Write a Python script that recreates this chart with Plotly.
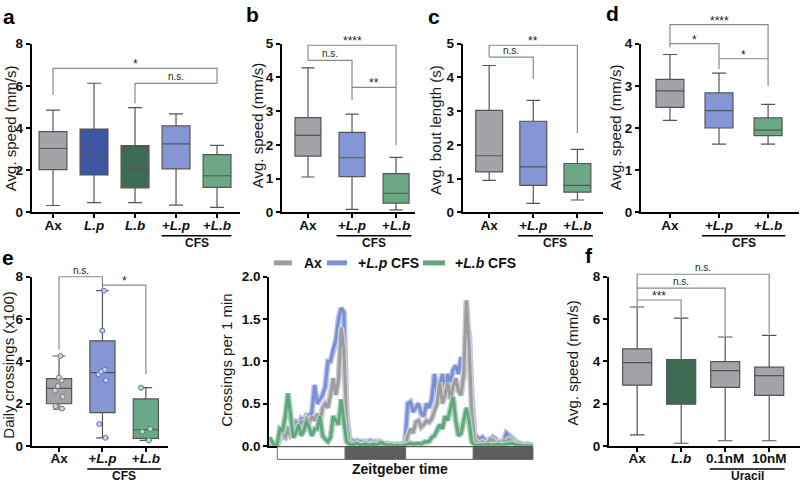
import plotly.graph_objects as go

W, H = 800, 489
FONT = "Liberation Sans, Arial, sans-serif"
INK = "#111111"

# ---------------- data ----------------
a_labels = ["Ax", "<i>L.p</i>", "<i>L.b</i>", "+<i>L.p</i>", "+<i>L.b</i>"]
a_low = [0.33, 0.47, 0.47, 0.35, 0.24]
a_q1 = [2.03, 1.78, 1.17, 2.07, 1.19]
a_med = [3.03, 2.78, 2.08, 3.25, 1.74]
a_q3 = [3.83, 3.95, 3.17, 4.10, 2.74]
a_high = [4.85, 6.12, 4.97, 4.67, 3.18]

cfs_labels = ["Ax", "+<i>L.p</i>", "+<i>L.b</i>"]

b_low = [1.05, 0.09, 0.08]
b_q1 = [1.67, 1.06, 0.28]
b_med = [2.28, 1.62, 0.57]
b_q3 = [2.81, 2.37, 1.15]
b_high = [4.28, 2.91, 1.63]

c_low = [0.95, 0.27, 0.37]
c_q1 = [1.20, 0.80, 0.60]
c_med = [1.68, 1.35, 0.80]
c_q3 = [3.02, 2.70, 1.45]
c_high = [4.35, 3.32, 1.87]

d_low = [2.18, 1.62, 1.62]
d_q1 = [2.49, 2.00, 1.82]
d_med = [2.88, 2.41, 1.95]
d_q3 = [3.15, 2.83, 2.24]
d_high = [3.74, 3.30, 2.56]

e_low = [1.73, 0.38, 0.26]
e_q1 = [1.99, 1.57, 0.35]
e_med = [2.72, 3.46, 0.76]
e_q3 = [3.18, 4.97, 2.22]
e_high = [4.25, 7.34, 2.75]
e_ax_pts = [4.25, 3.23, 3.10, 2.83, 2.61, 2.32, 1.88, 1.76]
e_lp_pts = [7.34, 5.45, 3.60, 3.52, 3.38, 3.10, 1.03, 0.38]
e_lb_pts = [2.75, 0.80, 0.67, 0.26]

f_labels = ["Ax", "<i>L.b</i>", "0.1nM", "10nM"]
f_low = [0.52, 0.12, 0.24, 0.24]
f_q1 = [2.87, 1.97, 2.77, 2.39]
f_med = [3.94, 3.12, 3.56, 3.32]
f_q3 = [4.59, 4.08, 3.98, 3.72]
f_high = [6.57, 6.04, 5.15, 5.23]

a_yticks = [0, 2, 4, 6, 8]
b_yticks = [0, 1, 2, 3, 4, 5]
c_yticks = [0, 1, 2, 3, 4, 5]
d_yticks = [0, 1, 2, 3, 4]
e_yticks = [0, 2, 4, 6, 8]
ts_yticks = [0.0, 0.5, 1.0, 1.5, 2.0]
f_yticks = [0, 2, 4, 6, 8]

# significance brackets: (from, to, height, left foot, right foot, label)
a_sig = [(0, 4, 6.82, 5.56, 6.11, "*"), (2, 4, 6.11, 5.17, 6.11, "n.s.")]
b_sig = [(0, 2, 4.95, 4.50, 2.00, "****"), (0, 1, 4.50, 4.50, 3.33, "n.s."),
         (1, 2, 3.70, 3.70, 3.70, "**")]
c_sig = [(0, 2, 4.95, 4.60, 2.35, "**"), (0, 1, 4.60, 4.60, 3.95, "n.s.")]
d_sig = [(0, 2, 4.45, 3.91, 2.99, "****"), (0, 1, 4.00, 4.00, 3.40, "*"),
         (1, 2, 3.64, 3.64, 3.64, "*")]
e_sig = [(0, 1, 8.00, 4.56, 7.34, "n.s."), (1, 2, 7.60, 7.60, 3.40, "*")]
f_sig = [(0, 3, 8.12, 6.60, 5.30, "n.s."), (0, 2, 7.46, 7.46, 5.20, "n.s."),
         (0, 1, 6.90, 6.90, 6.10, "***")]

# activity time course (Zeitgeber hours)
zt_hours = [
    -1.5, -1.0, -0.5, 0.0, 0.5, 1.0, 1.5, 2.0, 2.5, 3.0,
    3.5, 4.0, 4.5, 5.0, 5.5, 6.0, 6.5, 7.0, 7.5, 8.0,
    8.5, 9.0, 9.5, 10.0, 10.5, 11.0, 11.5, 12.0, 12.5, 13.0,
    13.5, 14.0, 14.5, 15.0, 15.5, 16.0, 16.5, 17.0, 17.5, 18.0,
    18.5, 19.0, 19.5, 20.0, 20.5, 21.0, 21.5, 22.0, 22.5, 23.0,
    23.5, 24.0, 24.5, 25.0, 25.5, 26.0, 26.5, 27.0, 27.5, 28.0,
    28.5, 29.0, 29.5, 30.0, 30.5, 31.0, 31.5, 32.0, 32.5, 33.0,
    33.5, 34.0, 34.5, 35.0, 35.5, 36.0, 36.5, 37.0, 37.5, 38.0,
    38.5, 39.0, 39.5, 40.0, 40.5, 41.0, 41.5, 42.0, 42.5, 43.0,
    43.5, 44.0, 44.5, 45.0, 45.5, 46.0, 46.5, 47.0, 47.5, 48.0,
]
ts_ax = [
    0.00, 0.00, 0.00, 0.02, 0.12, 0.18, 0.10, 0.20, 0.12, 0.15,
    0.25, 0.20, 0.30, 0.25, 0.32, 0.28, 0.35, 0.30, 0.38, 0.25,
    0.45, 0.50, 0.45, 0.60, 0.80, 0.60, 0.78, 1.40, 1.15, 0.30,
    0.05, 0.03, 0.02, 0.03, 0.02, 0.02, 0.04, 0.02, 0.03, 0.02,
    0.02, 0.05, 0.02, 0.01, 0.02, 0.01, 0.01, 0.01, 0.02, 0.01,
    0.00, 0.00, 0.12, 0.20, 0.15, 0.28, 0.30, 0.22, 0.25, 0.30,
    0.28, 0.32, 0.42, 0.50, 0.75, 0.50, 0.60, 0.75, 0.55, 0.70,
    0.80, 0.65, 0.60, 0.85, 1.72, 1.20, 0.40, 0.08, 0.04, 0.03,
    0.05, 0.03, 0.04, 0.08, 0.07, 0.03, 0.05, 0.04, 0.06, 0.05,
    0.08, 0.05, 0.03, 0.04, 0.02, 0.01, 0.01, 0.00, 0.00, 0.00,
]
ts_lp = [
    0.00, 0.00, 0.00, 0.01, 0.08, 0.12, 0.10, 0.20, 0.18, 0.22,
    0.28, 0.25, 0.32, 0.30, 0.36, 0.35, 0.40, 0.72, 0.50, 0.55,
    0.60, 0.70, 1.00, 1.00, 1.15, 1.25, 1.50, 1.63, 1.58, 0.40,
    0.10, 0.06, 0.05, 0.06, 0.05, 0.05, 0.04, 0.05, 0.06, 0.04,
    0.05, 0.03, 0.04, 0.02, 0.03, 0.02, 0.02, 0.01, 0.02, 0.01,
    0.01, 0.05, 0.50, 0.52, 0.40, 0.45, 0.50, 0.38, 0.35, 0.50,
    0.45, 0.55, 0.85, 0.60, 0.70, 0.85, 0.65, 0.85, 0.75, 0.90,
    0.95, 0.85, 1.05, 0.80, 1.30, 1.35, 0.60, 0.15, 0.10, 0.08,
    0.10, 0.06, 0.04, 0.05, 0.10, 0.08, 0.04, 0.05, 0.06, 0.15,
    0.12, 0.08, 0.05, 0.04, 0.03, 0.02, 0.01, 0.02, 0.01, 0.00,
]
ts_lb = [
    0.10, 0.05, 0.00, 0.02, 0.20, 0.18, 0.35, 0.62, 0.35, 0.10,
    0.15, 0.25, 0.12, 0.18, 0.30, 0.20, 0.12, 0.20, 0.20, 0.35,
    0.12, 0.08, 0.05, 0.10, 0.35, 0.30, 0.25, 0.55, 0.30, 0.05,
    0.02, 0.01, 0.02, 0.03, 0.01, 0.01, 0.02, 0.01, 0.01, 0.02,
    0.01, 0.02, 0.04, 0.02, 0.01, 0.01, 0.01, 0.00, 0.01, 0.00,
    0.00, 0.01, 0.02, 0.03, 0.02, 0.02, 0.03, 0.02, 0.04, 0.05,
    0.05, 0.10, 0.12, 0.18, 0.25, 0.20, 0.35, 0.30, 0.45, 0.58,
    0.30, 0.12, 0.15, 0.30, 0.45, 0.30, 0.05, 0.01, 0.01, 0.01,
    0.01, 0.01, 0.02, 0.01, 0.01, 0.01, 0.02, 0.01, 0.01, 0.02,
    0.02, 0.03, 0.02, 0.01, 0.01, 0.00, 0.00, 0.00, 0.00, 0.00,
]
ts_names = ["Ax", "+<i>L.p</i> CFS", "+<i>L.b</i> CFS"]
zt_edges = [0, 12.75, 24.1, 36.8, 48.0]
zt_dark = [False, True, False, True]

# ---------------- styles ----------------
GRAY = "#a3a3a8"
LP_DARK = "#3f56a3"
LB_DARK = "#3e6b53"
LP = "#8496d4"
LB = "#6aa886"
OUTLINE = "#555555"
BRACKET = "#8a8a8a"

# panel geometry in pixels of the 800x489 page
panels = {
    "a": dict(n=1, xpix=(31.7, 240.0), ypix=(37.7, 212.0), xrange=(-0.52, 4.56), yrange=(0, 8)),
    "b": dict(n=2, xpix=(282.0, 415.0), ypix=(37.7, 212.0), xrange=(-0.59, 2.43), yrange=(0, 5)),
    "c": dict(n=3, xpix=(462.7, 603.0), ypix=(37.7, 212.0), xrange=(-0.60, 2.58), yrange=(0, 5)),
    "d": dict(n=4, xpix=(641.0, 799.0), ypix=(37.7, 212.0), xrange=(-0.59, 2.63), yrange=(0, 4)),
    "e": dict(n=5, xpix=(31.7, 168.0), ypix=(278.3, 452.7), xrange=(-0.63, 2.51), yrange=(0, 8)),
    "ts": dict(n=6, xpix=(269.3, 533.3), ypix=(278.3, 452.7), xrange=(-1.5, 48.06), yrange=(0, 2)),
    "f": dict(n=7, xpix=(609.0, 800.0), ypix=(278.3, 452.7), xrange=(-0.64, 3.70), yrange=(0, 8)),
}


def ids(p):
    s = "" if p["n"] == 1 else str(p["n"])
    return "x" + s, "y" + s, "xaxis" + s, "yaxis" + s


def to_paper(p, x, y):
    (xl, xr), (yt, yb) = p["xpix"], p["ypix"]
    r0, r1 = p["xrange"]
    s0, s1 = p["yrange"]
    px = xl + (x - r0) / (r1 - r0) * (xr - xl)
    py = yb - (y - s0) / (s1 - s0) * (yb - yt)
    return px / W, 1 - py / H


fig = go.Figure()
shapes = []
annotations = []
axes = {}


def setup_axes(p, xticks, xtext, yticks, ytext):
    xid, yid, xa, ya = ids(p)
    (xl, xr), (yt, yb) = p["xpix"], p["ypix"]
    common = dict(showline=True, linewidth=2, linecolor="black", showgrid=False,
                  zeroline=False, ticks="outside", ticklen=4, tickwidth=1.5,
                  tickcolor="black", tickmode="array",
                  tickfont=dict(family=FONT, size=13.5, color=INK), fixedrange=True)
    axes[xa] = dict(common, domain=[xl / W, xr / W], range=list(p["xrange"]), anchor=yid,
                    tickvals=xticks, ticktext=xtext, ticklabelstandoff=-5)
    axes[ya] = dict(common, domain=[1 - yb / H, 1 - yt / H], range=list(p["yrange"]),
                    anchor=xid, tickvals=yticks, ticktext=ytext)


def box_panel(key, labels, low, q1, med, q3, high, colors, width, sig, yticks, group):
    p = panels[key]
    xid, yid, _, _ = ids(p)
    for i in range(len(labels)):
        fig.add_trace(go.Box(
            x=[i], q1=[q1[i]], median=[med[i]], q3=[q3[i]],
            lowerfence=[low[i]], upperfence=[high[i]],
            width=width, whiskerwidth=0.5, boxpoints=False,
            fillcolor=colors[i], line=dict(color=OUTLINE, width=1.2),
            xaxis=xid, yaxis=yid, showlegend=False, hoverinfo="skip"))
    setup_axes(p, list(range(len(labels))), [f"<b>{t}</b>" for t in labels],
               yticks, [f"<b>{t}</b>" for t in yticks])
    for x1, x2, h, f1, f2, txt in sig:
        pts = [to_paper(p, x1, f1), to_paper(p, x1, h), to_paper(p, x2, h), to_paper(p, x2, f2)]
        path = "M " + " L ".join(f"{u:.5f},{v:.5f}" for u, v in pts)
        shapes.append(dict(type="path", path=path, xref="paper", yref="paper",
                           line=dict(color=BRACKET, width=1.2)))
        ax_, ay_ = to_paper(p, (x1 + x2) / 2, h)
        star = "*" in txt
        annotations.append(dict(x=ax_, y=ay_, xref="paper", yref="paper", text=txt,
                                showarrow=False, xanchor="center", yanchor="bottom",
                                yshift=-5 if star else -1,
                                font=dict(family=FONT, size=12 if star else 10, color="#222")))
    if group:
        gtxt, g0, g1 = group
        base = p["ypix"][1]
        u0, _ = to_paper(p, g0 - 0.35, 0)
        u1, _ = to_paper(p, g1 + 0.35, 0)
        yl = 1 - (base + 24) / H
        shapes.append(dict(type="line", xref="paper", yref="paper", x0=u0, x1=u1, y0=yl, y1=yl,
                           line=dict(color="black", width=1.5)))
        annotations.append(dict(x=(u0 + u1) / 2, y=1 - (base + 31) / H, xref="paper", yref="paper",
                                text=f"<b>{gtxt}</b>", showarrow=False, xanchor="center",
                                yanchor="middle", font=dict(family=FONT, size=12, color=INK)))


box_panel("a", a_labels, a_low, a_q1, a_med, a_q3, a_high,
          [GRAY, LP_DARK, LB_DARK, LP, LB], 0.68, a_sig, a_yticks, ("CFS", 3, 4))
box_panel("b", cfs_labels, b_low, b_q1, b_med, b_q3, b_high,
          [GRAY, LP, LB], 0.59, b_sig, b_yticks, ("CFS", 1, 2))
box_panel("c", cfs_labels, c_low, c_q1, c_med, c_q3, c_high,
          [GRAY, LP, LB], 0.61, c_sig, c_yticks, ("CFS", 1, 2))
box_panel("d", cfs_labels, d_low, d_q1, d_med, d_q3, d_high,
          [GRAY, LP, LB], 0.57, d_sig, d_yticks, ("CFS", 1, 2))
box_panel("e", cfs_labels, e_low, e_q1, e_med, e_q3, e_high,
          [GRAY, LP, LB], 0.58, e_sig, e_yticks, ("CFS", 1, 2))
box_panel("f", f_labels, f_low, f_q1, f_med, f_q3, f_high,
          [GRAY, LB_DARK, GRAY, GRAY], 0.66, f_sig, f_yticks, ("Uracil", 2, 3))

# individual points in panel e
pe = panels["e"]
xid, yid, _, _ = ids(pe)
for i, (pts, fill, edge) in enumerate([(e_ax_pts, "#d4d4d8", "#76767b"),
                                       (e_lp_pts, "#c6cff0", "#5b70c0"),
                                       (e_lb_pts, "#b8dcc8", "#3f8a5f")]):
    fig.add_trace(go.Box(x=[i] * len(pts), y=pts, boxpoints="all", jitter=0.45, pointpos=0,
                         width=0.58, fillcolor="rgba(0,0,0,0)", line=dict(width=0),
                         marker=dict(size=5, color=fill, line=dict(color=edge, width=1)),
                         xaxis=xid, yaxis=yid, showlegend=False, hoverinfo="skip"))

# time course panel
pt = panels["ts"]
xid, yid, _, _ = ids(pt)
ts_styles = [(ts_lp, "#7b8fd3", "#b9c4ec"), (ts_ax, "#9d9da0", "#cdcdcf"), (ts_lb, "#62a67f", "#a9d3ba")]
for vals, core, halo in ts_styles:
    fig.add_trace(go.Scatter(x=zt_hours, y=vals, mode="lines", line=dict(color=halo, width=6),
                             xaxis=xid, yaxis=yid, showlegend=False, hoverinfo="skip"))
    fig.add_trace(go.Scatter(x=zt_hours, y=vals, mode="lines", line=dict(color=core, width=3),
                             xaxis=xid, yaxis=yid, showlegend=False, hoverinfo="skip"))
setup_axes(pt, [], [], ts_yticks, [f"<b>{v:.1f}</b>" for v in ts_yticks])
axes["xaxis6"]["ticks"] = ""
axes["xaxis6"]["showticklabels"] = False

base = pt["ypix"][1]
for k in range(len(zt_dark)):
    u0, _ = to_paper(pt, zt_edges[k], 0)
    u1, _ = to_paper(pt, zt_edges[k + 1], 0)
    shapes.append(dict(type="rect", xref="paper", yref="paper", x0=u0, x1=u1,
                       y0=1 - (base + 14) / H, y1=1 - (base + 1) / H,
                       fillcolor="#5c5c5c" if zt_dark[k] else "white",
                       line=dict(color="#666666", width=1)))
annotations.append(dict(x=400 / W, y=1 - 477 / H, xref="paper", yref="paper",
                        text="<b>Zeitgeber time</b>", showarrow=False,
                        xanchor="center", yanchor="middle",
                        font=dict(family=FONT, size=14, color=INK)))

# custom legend for the time course
legend_items = [("#9d9da0", 274, 292, 302), ("#7b8fd3", 327, 347, 356), ("#62a67f", 423, 445, 453)]
for (col, s0, s1, tx), name in zip(legend_items, ts_names):
    shapes.append(dict(type="line", xref="paper", yref="paper", x0=s0 / W, x1=s1 / W,
                       y0=1 - 264 / H, y1=1 - 264 / H, line=dict(color=col, width=5)))
    annotations.append(dict(x=tx / W, y=1 - 264 / H, xref="paper", yref="paper",
                            text=f"<b>{name}</b>", showarrow=False, xanchor="left",
                            yanchor="middle", font=dict(family=FONT, size=14, color=INK)))

# y axis titles
y_titles = [("Avg. speed (mm/s)", 10, 125), ("Avg. speed (mm/s)", 257, 122),
            ("Avg. bout length (s)", 435, 127), ("Avg. speed (mm/s)", 615, 124),
            ("Daily crossings (x100)", 9, 369), ("Crossings per 1 min", 227, 365),
            ("Avg. speed (mm/s)", 573, 367)]
for txt, x, y in y_titles:
    annotations.append(dict(x=x / W, y=1 - y / H, xref="paper", yref="paper", text=txt,
                            textangle=-90, showarrow=False, xanchor="center", yanchor="middle",
                            font=dict(family=FONT, size=15, color="#1a1a1a")))

# panel letters
for letter, x, y in [("a", 8.5, 10), ("b", 252.5, 8), ("c", 434, 10), ("d", 612, 7),
                     ("e", 7.5, 258), ("f", 589, 256)]:
    annotations.append(dict(x=x / W, y=1 - y / H, xref="paper", yref="paper",
                            text=f"<b>{letter}</b>", showarrow=False, xanchor="center",
                            yanchor="middle", font=dict(family=FONT, size=21, color="black")))

fig.update_layout(
    width=W, height=H, autosize=False,
    margin=dict(l=0, r=0, t=0, b=0),
    paper_bgcolor="white", plot_bgcolor="white",
    showlegend=False,
    boxmode="overlay",
    shapes=shapes, annotations=annotations,
    font=dict(family=FONT, color=INK),
    **axes,
)

fig.write_html("out.html",
               config={"displayModeBar": False, "responsive": False},
               post_script="document.body.style.margin='0';document.body.style.overflow='hidden';")
